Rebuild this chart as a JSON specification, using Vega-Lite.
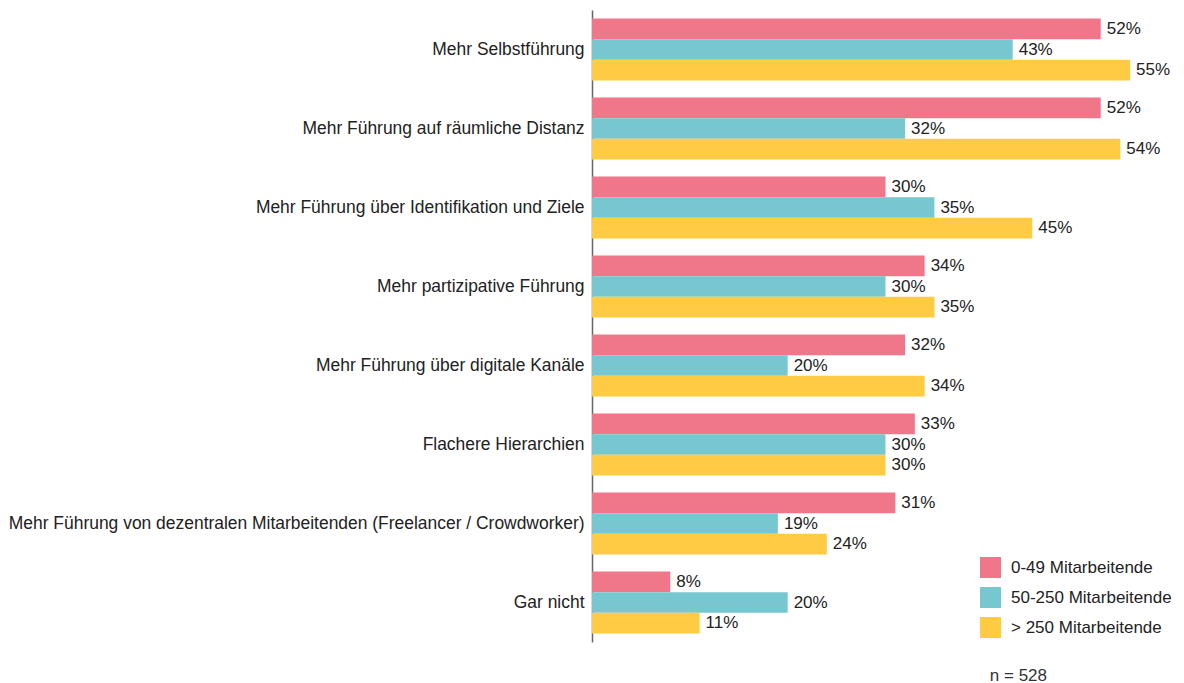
{
  "$schema": "https://vega.github.io/schema/vega-lite/v6.json",
  "width": 587,
  "height": 632,
  "padding": {"left": 8, "top": 10, "right": 5, "bottom": 5},
  "background": "white",
  "config": {
    "view": {"stroke": null},
    "font": "Liberation Sans",
    "text": {"font": "Liberation Sans"}
  },
  "data": {
    "values": [
      {"kategorie": "Mehr Selbstführung", "gruppe": "0-49 Mitarbeitende", "wert": 0.52},
      {"kategorie": "Mehr Selbstführung", "gruppe": "50-250 Mitarbeitende", "wert": 0.43},
      {"kategorie": "Mehr Selbstführung", "gruppe": "> 250 Mitarbeitende", "wert": 0.55},
      {"kategorie": "Mehr Führung auf räumliche Distanz", "gruppe": "0-49 Mitarbeitende", "wert": 0.52},
      {"kategorie": "Mehr Führung auf räumliche Distanz", "gruppe": "50-250 Mitarbeitende", "wert": 0.32},
      {"kategorie": "Mehr Führung auf räumliche Distanz", "gruppe": "> 250 Mitarbeitende", "wert": 0.54},
      {"kategorie": "Mehr Führung über Identifikation und Ziele", "gruppe": "0-49 Mitarbeitende", "wert": 0.30},
      {"kategorie": "Mehr Führung über Identifikation und Ziele", "gruppe": "50-250 Mitarbeitende", "wert": 0.35},
      {"kategorie": "Mehr Führung über Identifikation und Ziele", "gruppe": "> 250 Mitarbeitende", "wert": 0.45},
      {"kategorie": "Mehr partizipative Führung", "gruppe": "0-49 Mitarbeitende", "wert": 0.34},
      {"kategorie": "Mehr partizipative Führung", "gruppe": "50-250 Mitarbeitende", "wert": 0.30},
      {"kategorie": "Mehr partizipative Führung", "gruppe": "> 250 Mitarbeitende", "wert": 0.35},
      {"kategorie": "Mehr Führung über digitale Kanäle", "gruppe": "0-49 Mitarbeitende", "wert": 0.32},
      {"kategorie": "Mehr Führung über digitale Kanäle", "gruppe": "50-250 Mitarbeitende", "wert": 0.20},
      {"kategorie": "Mehr Führung über digitale Kanäle", "gruppe": "> 250 Mitarbeitende", "wert": 0.34},
      {"kategorie": "Flachere Hierarchien", "gruppe": "0-49 Mitarbeitende", "wert": 0.33},
      {"kategorie": "Flachere Hierarchien", "gruppe": "50-250 Mitarbeitende", "wert": 0.30},
      {"kategorie": "Flachere Hierarchien", "gruppe": "> 250 Mitarbeitende", "wert": 0.30},
      {"kategorie": "Mehr Führung von dezentralen Mitarbeitenden (Freelancer / Crowdworker)", "gruppe": "0-49 Mitarbeitende", "wert": 0.31},
      {"kategorie": "Mehr Führung von dezentralen Mitarbeitenden (Freelancer / Crowdworker)", "gruppe": "50-250 Mitarbeitende", "wert": 0.19},
      {"kategorie": "Mehr Führung von dezentralen Mitarbeitenden (Freelancer / Crowdworker)", "gruppe": "> 250 Mitarbeitende", "wert": 0.24},
      {"kategorie": "Gar nicht", "gruppe": "0-49 Mitarbeitende", "wert": 0.08},
      {"kategorie": "Gar nicht", "gruppe": "50-250 Mitarbeitende", "wert": 0.20},
      {"kategorie": "Gar nicht", "gruppe": "> 250 Mitarbeitende", "wert": 0.11}
    ]
  },
  "title": {
    "text": "n = 528",
    "orient": "bottom",
    "anchor": "end",
    "dx": -132,
    "offset": 26,
    "fontSize": 17,
    "fontWeight": "normal",
    "color": "#333333",
    "font": "Liberation Sans"
  },
  "encoding": {
    "y": {
      "field": "kategorie",
      "type": "nominal",
      "sort": null,
      "scale": {"paddingInner": 0.215, "paddingOuter": 0.1075},
      "axis": {
        "title": null,
        "ticks": false,
        "labelFontSize": 17.45,
        "labelColor": "#222222",
        "labelPadding": 8,
        "labelLimit": 700,
        "domainColor": "#666666",
        "domainWidth": 1.5,
        "grid": false
      }
    },
    "yOffset": {
      "field": "gruppe",
      "type": "nominal",
      "sort": ["0-49 Mitarbeitende", "50-250 Mitarbeitende", "> 250 Mitarbeitende"],
      "scale": {"paddingInner": 0, "paddingOuter": 0}
    },
    "x": {
      "field": "wert",
      "type": "quantitative",
      "scale": {"domain": [0, 0.6], "nice": false},
      "axis": null
    }
  },
  "layer": [
    {
      "mark": {"type": "bar"},
      "encoding": {
        "color": {
          "field": "gruppe",
          "type": "nominal",
          "sort": ["0-49 Mitarbeitende", "50-250 Mitarbeitende", "> 250 Mitarbeitende"],
          "scale": {
            "domain": ["0-49 Mitarbeitende", "50-250 Mitarbeitende", "> 250 Mitarbeitende"],
            "range": ["#F07789", "#77C7D1", "#FECB43"]
          },
          "legend": {
            "title": null,
            "orient": "none",
            "legendX": 388,
            "legendY": 547,
            "symbolType": "square",
            "symbolSize": 441,
            "symbolStrokeWidth": 0,
            "symbolOpacity": 1,
            "labelFontSize": 17,
            "labelLimit": 300,
            "labelColor": "#222222",
            "labelOffset": 10,
            "rowPadding": 9,
            "labelFont": "Liberation Sans"
          }
        }
      }
    },
    {
      "mark": {"type": "text", "align": "left", "baseline": "middle", "dx": 6, "fontSize": 17, "color": "#222222"},
      "encoding": {
        "text": {"field": "wert", "type": "quantitative", "format": ".0%"},
        "detail": {"field": "gruppe"}
      }
    }
  ]
}
